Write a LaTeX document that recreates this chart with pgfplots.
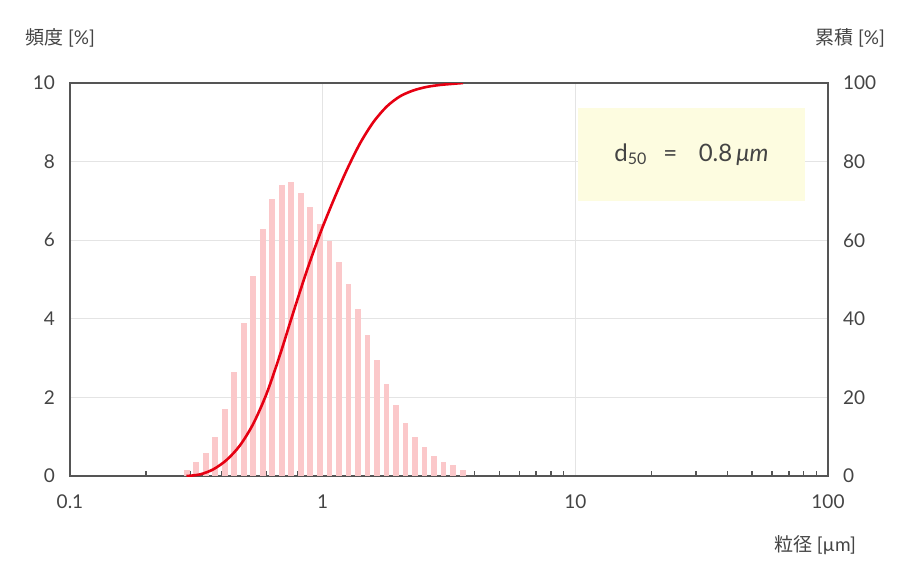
\documentclass[border=0pt]{standalone}
\usepackage{fontspec}
\setmainfont{Lato}
\newfontfamily\cjk{Noto Sans CJK JP}
\usepackage{pgfplots}
\pgfplotsset{compat=1.18}
\definecolor{txt}{HTML}{444444}
\definecolor{axgray}{HTML}{555555}
\definecolor{gridgray}{HTML}{E4E4E4}
\definecolor{barpink}{HTML}{FBC8CA}
\definecolor{curvered}{HTML}{E60012}
\definecolor{boxyellow}{HTML}{FDFCE0}
\begin{document}
\begin{tikzpicture}[font=\color{txt}]
\useasboundingbox (-35pt,-55pt) rectangle (415pt,238pt);
\begin{axis}[at={(0,0)}, anchor=south west, scale only axis,
  width=379pt, height=196.5pt,
  xmode=log, xmin=0.1, xmax=100, ymin=0, ymax=10,
  xtick={0.1,1,10,100}, xticklabels={0.1,1,10,100},
  minor xtick={0.2,0.3,0.4,0.5,0.6,0.7,0.8,0.9,2,3,4,5,6,7,8,9,20,30,40,50,60,70,80,90},
  ytick={0,2,4,6,8,10},
  major tick length=0pt, minor tick length=2.5pt,
  xtick pos=bottom, ytick pos=left,
  every tick/.style={axgray, line width=0.7pt},
  axis line style={draw=axgray, line width=1pt},
  xmajorgrids, ymajorgrids,
  major grid style={gridgray, line width=0.6pt},
  /pgf/number format/assume math mode=true,
  tick label style={font=\fontsize{9.5}{11}\selectfont, text=txt},
  xticklabel style={yshift=-6pt},
  yticklabel style={xshift=-4pt},
]
\addplot[ycomb, barpink, line width=2.9pt, mark=none] coordinates {
(0.2895,0.15) (0.3158,0.35) (0.3444,0.58) (0.3756,1.00) (0.4097,1.70)
(0.4468,2.64) (0.4873,3.89) (0.5315,5.10) (0.5797,6.28) (0.6322,7.06)
(0.6895,7.40) (0.7517,7.47) (0.8200,7.19) (0.8941,6.85) (0.9750,6.40)
(1.0634,5.97) (1.1599,5.45) (1.2647,4.88) (1.3793,4.25) (1.5041,3.60)
(1.6406,2.94) (1.7891,2.34) (1.9513,1.81) (2.1281,1.35) (2.3207,0.99)
(2.5310,0.73) (2.7606,0.52) (3.0103,0.36) (3.2833,0.28) (3.5810,0.16)
};
\end{axis}
\begin{axis}[at={(0,0)}, anchor=south west, scale only axis,
  width=379pt, height=196.5pt,
  xmode=log, xmin=0.1, xmax=100, ymin=0, ymax=100,
  axis x line=none, axis y line*=right,
  ytick={0,20,40,60,80,100},
  major tick length=0pt,
  axis line style={draw=axgray, line width=1pt},
  /pgf/number format/assume math mode=true,
  tick label style={font=\fontsize{9.5}{11}\selectfont, text=txt},
  yticklabel style={xshift=4pt},
]
\addplot[curvered, line width=1.3pt, smooth, mark=none] coordinates {
(0.2891,0) (0.3268,0.4) (0.3691,1.7) (0.4170,4.1) (0.4708,7.8)
(0.5313,13.3) (0.6003,21.0) (0.6776,30.8) (0.7651,41.6) (0.8643,52.1)
(0.9757,61.6) (1.1013,70.0) (1.2443,77.8) (1.4047,84.6) (1.5856,90.0)
(1.7922,94.0) (2.0225,96.6) (2.2834,98.1) (2.5797,99.0) (2.9120,99.5)
(3.2872,99.8) (3.5916,100)
};
\end{axis}
\fill[boxyellow] (254pt,137.5pt) rectangle (367.5pt,184pt);
\node at (310.75pt,160.5pt) {\fontsize{12}{14}\selectfont d\raisebox{-0.25ex}{\fontsize{8}{9}\selectfont 50}\hspace{0.7em}=\hspace{0.9em}0.8\,\textit{μm}};
\node at (-5pt,219pt) {\fontsize{9.5}{11}\selectfont{\cjk 頻度} [\%]};
\node at (390pt,219pt) {\fontsize{9.5}{11}\selectfont{\cjk 累積} [\%]};
\node at (372.5pt,-34.5pt) {\fontsize{9.5}{11}\selectfont{\cjk 粒径} [µm]};
\end{tikzpicture}
\end{document}
